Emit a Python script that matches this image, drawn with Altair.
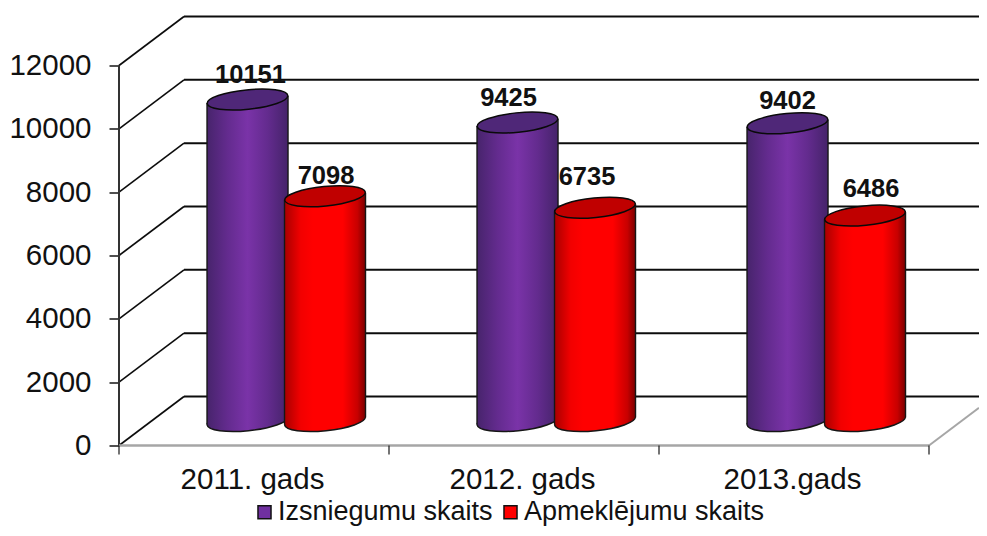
import altair as alt
import pandas as pd

categories = ["2011. gads", "2012. gads", "2013.gads"]
series_names = ["Izsniegumu skaits", "Apmeklējumu skaits"]
izsniegumu = [10151, 9425, 9402]
apmeklejumu = [7098, 6735, 6486]
tick_values = [0, 2000, 4000, 6000, 8000, 10000, 12000]

# layout constants
W, H = 860, 429
PX_X = 270.0            # pixels per category
PX_Y = H / 13547.0      # pixels per value unit
DX = 65 / PX_X          # depth of the 3D box
DY = 49 / PX_Y
XMAX = W / PX_X
HALF = 40.5 / PX_X
TILT = 3.5 / PX_Y
CENTER = {series_names[0]: 0.476, series_names[1]: 0.763}
LABEL_SHIFT = {
    series_names[0]: [(3, 24.5), (-9, 24.5), (0, 22)],
    series_names[1]: [(1, 20), (-8, 31), (6, 27)],
}
VALUES = {series_names[0]: izsniegumu, series_names[1]: apmeklejumu}
SIDE_GRAD = {
    series_names[0]: [(0, "#47246c"), (0.25, "#632b8e"), (0.5, "#7a33a8"), (0.75, "#632b8e"), (1, "#45236a")],
    series_names[1]: [(0, "#a80000"), (0.2, "#f20000"), (0.35, "#ff0000"), (0.72, "#ff0000"), (0.9, "#c80000"), (1, "#7a0000")],
}
TOP = {series_names[0]: "#4f2778", series_names[1]: "#c00000"}
ELLIPSE = "M-0.995,0.1A1,0.24,-5.7,1,1,0.995,-0.1A1,0.24,-5.7,1,1,-0.995,0.1Z"
ESIZE = 81 * 81
INK = "#161616"

X = alt.X("x:Q", scale=alt.Scale(domain=[0, XMAX], nice=False, zero=False), title=None,
          axis=alt.Axis(values=[0.4926, 1.4926, 2.4926], ticks=False, domain=False, grid=False,
                        labelExpr="['2011. gads','2012. gads','2013.gads'][floor(datum.value)]",
                        labelFontSize=29.5, labelFont="Liberation Sans", labelColor="#111111",
                        labelPadding=20, labelFlush=False, labelOverlap=False))
Y = alt.Y("y:Q", scale=alt.Scale(domain=[0, 13547], nice=False, zero=False), title=None,
          axis=alt.Axis(values=tick_values, format="d", tickSize=10, tickColor=INK, tickWidth=1.5, domain=False, grid=False,
                        labelFontSize=29.5, labelFont="Liberation Sans", labelColor="#111111", labelPadding=18,
                        labelFlush=False, labelOverlap=False))

# walls
back_df = pd.DataFrame([{"x": DX, "x2": XMAX, "y": t + DY} for t in tick_values])
back_rule = alt.Chart(back_df).mark_rule(color="#0c0c0c", strokeWidth=2).encode(x=X, x2="x2:Q", y=Y)

slope_lines = []
for t in tick_values:
    slope_lines += [{"x": 0, "y": t, "k": t}, {"x": DX, "y": t + DY, "k": t}]
slope_chart = alt.Chart(pd.DataFrame(slope_lines)).mark_line(color="#0c0c0c", strokeWidth=1.6).encode(x=X, y=Y, detail="k:O")

y_axis_line = alt.Chart(pd.DataFrame({"x": [0], "y": [0], "y2": [12000]})).mark_rule(color="#333333", strokeWidth=2).encode(x=X, y=Y, y2="y2:Q")
floor_front = alt.Chart(pd.DataFrame({"x": [0], "x2": [3], "y": [0]})).mark_rule(color="#a6a6a6", strokeWidth=2.5).encode(x=X, x2="x2:Q", y=Y)
floor_right = alt.Chart(pd.DataFrame({"x": [3, XMAX], "y": [0, (XMAX - 3) / DX * DY]})).mark_line(color="#a6a6a6", strokeWidth=2).encode(x=X, y=Y)
cat_ticks = alt.Chart(pd.DataFrame({"x": [0, 1, 2, 3]})).mark_rule(color=INK, strokeWidth=1.2).encode(
    x=X, y=alt.value(H), y2=alt.value(H + 9))


def cylinder_layers(name):
    side, edges, ends, tops, labels = [], [], [], [], []
    for i, v in enumerate(VALUES[name]):
        cx = i + CENTER[name]
        top = v + DY / 2
        bot = DY / 2
        side += [
            {"x": cx - HALF, "y": top - TILT, "y2": bot - TILT, "k": i},
            {"x": cx + HALF, "y": top + TILT, "y2": bot + TILT, "k": i},
        ]
        edges += [
            {"x": cx - HALF, "y": top - TILT, "y2": bot - TILT},
            {"x": cx + HALF, "y": top + TILT, "y2": bot + TILT},
        ]
        ends.append({"x": cx, "y": bot})
        tops.append({"x": cx, "y": top})
        dx, dy = LABEL_SHIFT[name][i]
        labels.append({"x": cx + dx / PX_X, "y": top + dy / PX_Y, "t": str(v)})
    grad = alt.Gradient(gradient="linear", x1=0, x2=1, y1=0, y2=0,
                        stops=[alt.GradientStop(offset=o, color=c) for o, c in SIDE_GRAD[name]])
    bottom = alt.Chart(pd.DataFrame(ends)).mark_point(
        shape=ELLIPSE, size=ESIZE, filled=True, fill=grad, stroke=INK, strokeWidth=1.5, opacity=1).encode(x=X, y=Y)
    body = alt.Chart(pd.DataFrame(side)).mark_area(color=grad, opacity=1).encode(x=X, y=Y, y2="y2:Q", detail="k:O")
    rim = alt.Chart(pd.DataFrame(edges)).mark_rule(color=INK, strokeWidth=1.4).encode(x=X, y=Y, y2="y2:Q")
    cap = alt.Chart(pd.DataFrame(tops)).mark_point(
        shape=ELLIPSE, size=ESIZE, filled=True, fill=TOP[name], stroke="#0a0a0a", strokeWidth=1.5, opacity=1).encode(x=X, y=Y)
    text = alt.Chart(pd.DataFrame(labels)).mark_text(
        font="Liberation Sans", fontSize=25.5, fontWeight="bold", color="#111111", baseline="middle").encode(x=X, y=Y, text="t:N")
    return [bottom, body, rim, cap], text


purple, purple_text = cylinder_layers(series_names[0])
red, red_text = cylinder_layers(series_names[1])

legend_layer = alt.Chart(pd.DataFrame({"x": [0, 0], "y": [0, 0], "s": series_names})).mark_point(
    filled=True, size=0, opacity=0).encode(
    x=X, y=Y,
    color=alt.Color("s:N", scale=alt.Scale(domain=series_names, range=["#7030a0", "#ff0000"]),
                    legend=alt.Legend(orient="none", legendX=132, legendY=53 + H, direction="horizontal", title=None,
                                      symbolType="square", symbolSize=170, symbolOpacity=1, symbolStrokeColor="#111111",
                                      symbolStrokeWidth=1.5, labelFontSize=27, labelFont="Liberation Sans",
                                      labelColor="#111111", columnPadding=4, labelOffset=0, columns=2, labelLimit=400)))

chart = alt.layer(
    back_rule, slope_chart, y_axis_line, floor_front, floor_right, cat_ticks,
    *purple, *red, purple_text, red_text, legend_layer,
).properties(
    width=W, height=H,
    padding={"left": 111, "top": 8.5, "right": 0, "bottom": 82},
    autosize=alt.AutoSizeParams(type="none"),
    background="white",
).configure_view(stroke=None)

chart.save("out.html", embed_options={"renderer": "svg", "actions": False})
